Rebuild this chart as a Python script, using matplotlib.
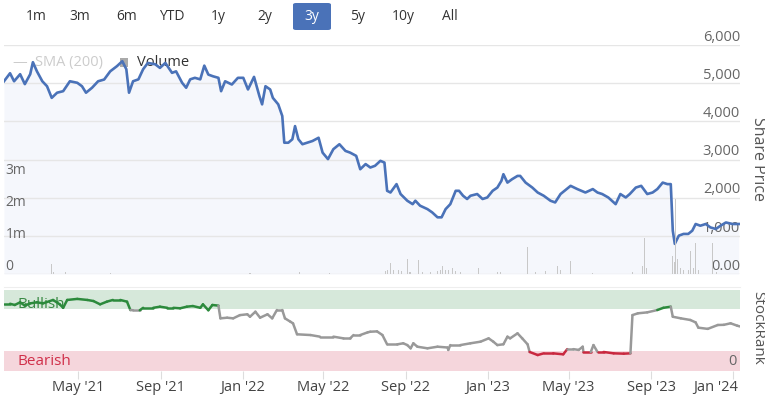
import matplotlib
matplotlib.use("Agg")
import matplotlib.pyplot as plt
import matplotlib.dates as mdates
import matplotlib.patches as mpatches
from matplotlib.collections import LineCollection
from matplotlib.transforms import ScaledTranslation
import numpy as np
import pandas as pd

plt.rcParams['font.family'] = ['Open Sans', 'DejaVu Sans']

# share price
price_dates = [
    "2021-01-11", "2021-01-20", "2021-01-26", "2021-02-04", "2021-02-11", "2021-02-19", "2021-02-23",
    "2021-03-01", "2021-03-09", "2021-03-16", "2021-03-23", "2021-03-31", "2021-04-09", "2021-04-19",
    "2021-04-30", "2021-05-07", "2021-05-13", "2021-05-22", "2021-05-31", "2021-06-09", "2021-06-18",
    "2021-06-28", "2021-07-06", "2021-07-12", "2021-07-16", "2021-07-22", "2021-07-30", "2021-08-06",
    "2021-08-13", "2021-08-24", "2021-08-31", "2021-09-08", "2021-09-18", "2021-09-24", "2021-10-03",
    "2021-10-09", "2021-10-15", "2021-10-22", "2021-10-30", "2021-11-05", "2021-11-11", "2021-11-18",
    "2021-11-26", "2021-11-30", "2021-12-06", "2021-12-16", "2021-12-25", "2022-01-02", "2022-01-09",
    "2022-01-18", "2022-01-26", "2022-01-30", "2022-02-04", "2022-02-11", "2022-02-15", "2022-02-23",
    "2022-03-01", "2022-03-04", "2022-03-10", "2022-03-16", "2022-03-20", "2022-03-25", "2022-03-31",
    "2022-04-07", "2022-04-15", "2022-04-24", "2022-04-30", "2022-05-08", "2022-05-16", "2022-05-25",
    "2022-06-03", "2022-06-10", "2022-06-19", "2022-06-25", "2022-07-03", "2022-07-10", "2022-07-17",
    "2022-07-25", "2022-07-31", "2022-08-04", "2022-08-09", "2022-08-18", "2022-08-24", "2022-09-03",
    "2022-09-11", "2022-09-15", "2022-09-22", "2022-10-03", "2022-10-10", "2022-10-18", "2022-10-24",
    "2022-10-30", "2022-11-06", "2022-11-14", "2022-11-19", "2022-11-25", "2022-12-01", "2022-12-06",
    "2022-12-16", "2022-12-24", "2022-12-31", "2023-01-08", "2023-01-15", "2023-01-21", "2023-01-24",
    "2023-01-30", "2023-02-06", "2023-02-14", "2023-02-18", "2023-02-26", "2023-03-08", "2023-03-16",
    "2023-03-25", "2023-04-04", "2023-04-11", "2023-04-19", "2023-05-04", "2023-05-14", "2023-05-26",
    "2023-06-06", "2023-06-13", "2023-06-20", "2023-06-29", "2023-07-10", "2023-07-17", "2023-07-25",
    "2023-07-31", "2023-08-09", "2023-08-17", "2023-08-26", "2023-09-03", "2023-09-10", "2023-09-18",
    "2023-09-25", "2023-09-30", "2023-10-03", "2023-10-06", "2023-10-12", "2023-10-19", "2023-10-26",
    "2023-11-01", "2023-11-06", "2023-11-13", "2023-11-21", "2023-11-28", "2023-12-06", "2023-12-13",
    "2023-12-21", "2023-12-31", "2024-01-09",
]
price = [
    5050, 5260, 5050, 5235, 4975, 5235, 5550,
    5310, 5050, 4920, 4615, 4750, 4790, 5050,
    5010, 4920, 4750, 4880, 5050, 5095, 5310,
    5445, 5575, 5365, 4750, 5050, 5100, 5365,
    5530, 5495, 5400, 5530, 5270, 5310, 5010,
    4880, 5100, 5140, 5100, 5460, 5225, 5180,
    5140, 4790, 5050, 4965, 5140, 5140, 4835,
    5165, 4660, 4445, 4920, 4835, 4615, 4445,
    4140, 3440, 3440, 3530, 3875, 3530, 3400,
    3440, 3485, 3570, 3180, 3010, 3270, 3400,
    3225, 3180, 3095, 2745, 2880, 2790, 2835,
    2965, 2920, 2180, 2135, 2355, 2095, 1920,
    1830, 1920, 1790, 1700, 1615, 1485, 1485,
    1700, 1830, 2180, 2180, 2050, 1965, 2050,
    2095, 1965, 2005, 2180, 2265, 2440, 2615,
    2395, 2485, 2570, 2570, 2395, 2265, 2135,
    2050, 1920, 1875, 2095, 2310, 2225, 2135,
    2225, 2135, 2095, 2005, 1830, 2095, 2005,
    2095, 2265, 2310, 2095, 2135, 2225, 2395,
    2355, 2355, 1135, 790, 1005, 1050, 1050,
    1135, 1310, 1265, 1310, 1220, 1180, 1265,
    1350, 1310, 1310,
]

# volume, millions
vol_dates = [
    "2021-03-22", "2021-03-25", "2021-04-13", "2021-06-18", "2022-01-12", "2022-03-26", "2022-05-10",
    "2022-08-01", "2022-08-05", "2022-08-09", "2022-08-13", "2022-08-21", "2022-08-25", "2022-09-03",
    "2022-09-07", "2022-09-19", "2022-09-25", "2022-10-07", "2022-10-18", "2022-10-22", "2022-10-25",
    "2022-10-30", "2022-11-03", "2022-11-09", "2022-11-14", "2022-11-21", "2022-12-18", "2023-01-15",
    "2023-01-20", "2023-03-01", "2023-03-13", "2023-03-28", "2023-04-14", "2023-04-19", "2023-05-04",
    "2023-06-06", "2023-08-04", "2023-08-19", "2023-08-22", "2023-08-25", "2023-10-03", "2023-10-06",
    "2023-10-07", "2023-10-10", "2023-10-15", "2023-10-19", "2023-10-26", "2023-10-29", "2023-11-03",
    "2023-11-06", "2023-11-10", "2023-12-01", "2023-12-07",
]
volume = [
    0.32, 0.06, 0.06, 0.04, 0.03, 0.05, 0.04,
    0.10, 0.12, 0.35, 0.14, 0.12, 0.10, 0.48,
    0.06, 0.44, 0.06, 0.07, 0.10, 0.12, 0.24,
    0.14, 0.12, 0.18, 0.10, 0.07, 0.18, 0.06,
    0.05, 0.83, 0.06, 0.08, 0.26, 0.14, 0.42,
    0.04, 0.06, 0.24, 1.12, 0.18, 0.56, 0.36,
    2.33, 0.48, 0.18, 0.14, 0.12, 0.72, 0.18,
    0.98, 0.12, 0.96, 0.06,
]

# StockRank
rank_dates = [
    "2021-01-11", "2021-01-20", "2021-01-27", "2021-02-04", "2021-02-11", "2021-02-19", "2021-03-01",
    "2021-03-10", "2021-03-25", "2021-04-04", "2021-04-09", "2021-04-15", "2021-04-30", "2021-05-15",
    "2021-05-24", "2021-06-03", "2021-06-13", "2021-06-22", "2021-07-03", "2021-07-13", "2021-07-18",
    "2021-07-22", "2021-08-01", "2021-08-06", "2021-08-21", "2021-08-31", "2021-09-11", "2021-09-20",
    "2021-09-30", "2021-10-10", "2021-10-19", "2021-10-30", "2021-11-03", "2021-11-11", "2021-11-17",
    "2021-11-26", "2021-11-29", "2021-12-09", "2021-12-18", "2021-12-28", "2022-01-08", "2022-01-12",
    "2022-01-20", "2022-01-27", "2022-02-07", "2022-02-14", "2022-02-21", "2022-03-01", "2022-03-05",
    "2022-03-13", "2022-03-17", "2022-03-23", "2022-04-12", "2022-04-26", "2022-05-16", "2022-05-31",
    "2022-06-10", "2022-06-15", "2022-06-25", "2022-07-06", "2022-07-10", "2022-07-20", "2022-07-28",
    "2022-08-04", "2022-08-19", "2022-08-28", "2022-09-03", "2022-09-08", "2022-09-12", "2022-09-18",
    "2022-10-03", "2022-10-18", "2022-11-02", "2022-11-03", "2022-11-06", "2022-11-21", "2022-12-06",
    "2022-12-21", "2023-01-02", "2023-01-09", "2023-01-15", "2023-01-24", "2023-01-30", "2023-02-03",
    "2023-02-14", "2023-02-21", "2023-03-01", "2023-03-04", "2023-03-16", "2023-03-25", "2023-04-08",
    "2023-04-23", "2023-04-29", "2023-05-08", "2023-05-16", "2023-05-22", "2023-05-23", "2023-06-03",
    "2023-06-07", "2023-06-13", "2023-06-22", "2023-07-07", "2023-07-22", "2023-08-01", "2023-08-04",
    "2023-08-12", "2023-08-26", "2023-09-10", "2023-09-19", "2023-09-30", "2023-10-03", "2023-10-15",
    "2023-10-29", "2023-11-06", "2023-11-10", "2023-11-24", "2023-12-09", "2023-12-18", "2023-12-28",
    "2024-01-07", "2024-01-11",
]
rank = [
    83, 83, 81.5, 84.8, 80.7, 83.5, 84.8,
    83.5, 87.7, 82.3, 78, 87.7, 89, 87.7,
    86.4, 82.3, 85.6, 87.7, 87.7, 85.6, 75.3,
    75, 75, 78, 78, 79.4, 78, 78,
    77.4, 79.4, 80.2, 78, 82.3, 75, 81.5,
    80.7, 65, 65.8, 65, 69, 70, 67,
    73.2, 65.8, 70, 65, 75.3, 75.3, 65,
    60.9, 58.8, 45.3, 44.4, 42.4, 42.4, 40.3,
    40.3, 44.4, 44.4, 47.7, 48.5, 48.9, 44.4,
    32.9, 32.9, 34.2, 32, 28, 34.2, 30,
    28, 30, 29, 26, 32, 32, 34.2,
    36.2, 40.3, 36.2, 32, 33, 42.4, 40.3,
    46.5, 40.3, 32.9, 23.5, 19.7, 21.8, 21.8,
    20.6, 27, 27, 26, 30, 23.5, 23.5,
    32, 23.5, 23.5, 21.8, 21.4, 21.8, 69,
    71.2, 72.4, 75.3, 78, 79.4, 67, 65,
    63, 60, 53.5, 52, 56.8, 57, 58.9,
    55.9, 55,
]

price_ticks = [0, 1000, 2000, 3000, 4000, 5000, 6000]
price_tick_labels = ["0.00", "1,000", "2,000", "3,000", "4,000", "5,000", "6,000"]
vol_ticks = [0, 1, 2, 3]
vol_tick_labels = ["0", "1m", "2m", "3m"]
buttons = ["1m", "3m", "6m", "YTD", "1y", "2y", "3y", "5y", "10y", "All"]
selected = "3y"

BLUE = "#4a72b8"
GRID = "#e6e6e6"
TXT = "#666666"

pd_price = pd.to_datetime(price_dates)
pd_vol = pd.to_datetime(vol_dates)
pd_rank = pd.to_datetime(rank_dates)
xmin = pd.Timestamp("2021-01-11")
xmax = pd.Timestamp("2024-01-11")

W, H = 765, 397
fig = plt.figure(figsize=(W / 100, H / 100), dpi=100)


def fx(px):
    return px / W


def fy(py):
    return 1 - py / H


# ---- range buttons
btn_x = [36, 80, 127, 172, 218, 265, 312, 358, 403, 450]
for label, bx in zip(buttons, btn_x):
    col = "#333333"
    if label == selected:
        fig.patches.append(mpatches.FancyBboxPatch(
            (fx(bx - 19), fy(30)), fx(38), 27 / H,
            boxstyle="round,pad=0,rounding_size=0.004",
            transform=fig.transFigure, fc=BLUE, ec="none"))
        col = "white"
    fig.text(fx(bx), fy(17), label, ha="center", va="center", fontsize=10, color=col)

# ---- price panel
ax = fig.add_axes([fx(4), fy(274), fx(736), (274 - 45) / H])
ax_vol = ax.twinx()

ax.plot(pd_price, price, color=BLUE, lw=1.9, zorder=3, solid_joinstyle="round")
ax.fill_between(pd_price, price, 0, color="#f5f7fc", zorder=0.5, lw=0)
ax.set_ylim(0, 6000)
ax.set_xlim(xmin, xmax)
ax.set_yticks(price_ticks)
ax.set_yticklabels(price_tick_labels)
ax.yaxis.tick_right()
ax.tick_params(axis="y", length=0, pad=0, labelsize=10.5, labelcolor=TXT)
ax.tick_params(axis="x", bottom=False, labelbottom=False)
off = ScaledTranslation(0, 7 / 72, fig.dpi_scale_trans)
for lbl in ax.get_yticklabels():
    lbl.set_ha("right")
    lbl.set_transform(lbl.get_transform() + off)
ax.grid(axis="y", color=GRID, lw=1)
ax.set_axisbelow(True)
for s in ax.spines.values():
    s.set_visible(False)

ax_vol.bar(pd_vol, volume, width=1.6, color="#c8c8c8", zorder=2)
ax_vol.set_ylim(0, 229 / 32)
ax_vol.set_xlim(xmin, xmax)
ax_vol.set_yticks(vol_ticks)
ax_vol.set_yticklabels(vol_tick_labels)
ax_vol.yaxis.tick_left()
ax_vol.tick_params(axis="y", length=0, pad=-1, labelsize=10, labelcolor=TXT)
off2 = ScaledTranslation(0, 7 / 72, fig.dpi_scale_trans)
for lbl in ax_vol.get_yticklabels():
    lbl.set_ha("left")
    lbl.set_transform(lbl.get_transform() + off2)
for s in ax_vol.spines.values():
    s.set_visible(False)

# legend
ax.text(0.012, 0.925, "—", transform=ax.transAxes, fontsize=10.5, color="#cccccc",
        va="center", ha="left", zorder=1.5)
ax.text(0.042, 0.925, "SMA (200)", transform=ax.transAxes, fontsize=10.5, color="#cccccc",
        va="center", ha="left", zorder=1.5)
ax.add_patch(mpatches.Rectangle((0.157, 0.906), 0.011, 0.036, transform=ax.transAxes,
                                fc="#aaaaaa", ec="none", zorder=1.5))
ax.text(0.181, 0.925, "Volume", transform=ax.transAxes, fontsize=10.5, color="#333333",
        va="center", ha="left", zorder=1.5)

fig.text(fx(758), fy(159), "Share Price", rotation=270, ha="center", va="center",
         fontsize=11.5, color="#555555")

# ---- StockRank panel
ax2 = fig.add_axes([fx(4), fy(371), fx(736), 84 / H])
ax2.set_xlim(xmin, xmax)
ax2.set_ylim(0, 100 * 84 / 81)
ax2.axhspan(76, 100, color="#d6e8da", lw=0, zorder=0)
ax2.axhspan(0, 25, color="#f5d6dc", lw=0, zorder=0)

xn = mdates.date2num(pd_rank)
pts = np.column_stack([xn, rank])
segs = np.stack([pts[:-1], pts[1:]], axis=1)
cols = []
for a, b in zip(rank[:-1], rank[1:]):
    m = (a + b) / 2
    if m >= 76:
        cols.append("#2c8a3c")
    elif m <= 25:
        cols.append("#c9283f")
    else:
        cols.append("#999999")
lc = LineCollection(segs, colors=cols, linewidths=1.8, capstyle="round", joinstyle="round", zorder=3)
ax2.add_collection(lc)

ax2.text(0.018, 0.79, "Bullish", transform=ax2.transAxes, fontsize=11, color="#3a8a45",
         va="center", ha="left", zorder=2)
ax2.text(0.018, 0.115, "Bearish", transform=ax2.transAxes, fontsize=11, color="#d0304a",
         va="center", ha="left", zorder=2)
ax2.text(0.995, 0.11, "0", transform=ax2.transAxes, fontsize=10.5, color=TXT,
         va="center", ha="right", zorder=2)

ax2.xaxis.set_major_locator(mdates.MonthLocator(bymonth=[1, 5, 9]))
ax2.xaxis.set_major_formatter(mdates.DateFormatter("%b '%y"))
ax2.tick_params(axis="x", length=6, width=0.8, color="#dddddd", labelsize=10.5,
                labelcolor="#444444", pad=0.5)
ax2.set_yticks([])
for k in ["left", "right", "bottom"]:
    ax2.spines[k].set_visible(False)
ax2.spines["top"].set_color("#eeeeee")

# keep the last date label inside the plot, like the original
fig.canvas.draw()
xlabels = [l for l in ax2.get_xticklabels() if l.get_text()]
last = xlabels[-1]
last.set_ha("right")
last.set_transform(last.get_transform() + ScaledTranslation(5 / 100, 0, fig.dpi_scale_trans))

fig.text(fx(758), fy(328), "StockRank", rotation=270, ha="center", va="center",
         fontsize=11, color="#555555")

fig.savefig("out.png", dpi=100)
